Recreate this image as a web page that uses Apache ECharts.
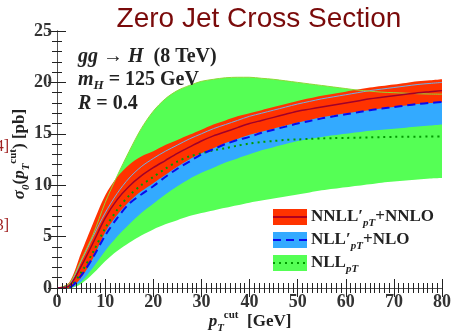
<!DOCTYPE html>
<html>
<head>
<meta charset="utf-8">
<script src="https://cdn.jsdelivr.net/npm/echarts@6/dist/echarts.min.js"></script>
<style>
  html, body { margin: 0; padding: 0; background: #fff; }
  #main { width: 454px; height: 336px; }
</style>
</head>
<body>
<div id="main"></div>
<script>
// pT cut values (GeV), one every 2.5 GeV
const ptCut = [0, 2.5, 5, 7.5, 10, 12.5, 15, 17.5, 20, 22.5, 25, 27.5, 30, 32.5, 35, 37.5, 40,
  42.5, 45, 47.5, 50, 52.5, 55, 57.5, 60, 62.5, 65, 67.5, 70, 72.5, 75, 77.5, 80];

// NNLL'+NNLO (red)
const nnllCentral = [0, 0.2, 2.1, 4.4, 6.8, 8.6, 9.9, 10.9, 11.7, 12.4, 13.1, 13.7, 14.3, 14.8, 15.2, 15.6, 16.0,
  16.3, 16.6, 16.9, 17.2, 17.4, 17.6, 17.8, 18.0, 18.2, 18.4, 18.55, 18.7, 18.85, 19.0, 19.1, 19.2];
const nnllUpper = [0, 0.5, 3.4, 6.3, 9.0, 10.8, 12.0, 12.8, 13.3, 13.9, 14.4, 14.9, 15.4, 15.9, 16.3, 16.7, 17.0,
  17.3, 17.6, 17.9, 18.2, 18.45, 18.7, 18.9, 19.1, 19.3, 19.5, 19.65, 19.8, 19.95, 20.1, 20.2, 20.3];
const nnllLower = [0, 0, 1.0, 2.9, 5.4, 7.1, 8.4, 9.4, 10.2, 11.0, 11.8, 12.5, 13.1, 13.6, 14.1, 14.5, 14.9,
  15.2, 15.5, 15.8, 16.1, 16.35, 16.6, 16.8, 17.0, 17.15, 17.3, 17.45, 17.6, 17.75, 17.9, 18.0, 18.1];

// NLL'+NLO (blue)
const nllpCentral = [0, 0.05, 1.2, 3.0, 5.1, 6.8, 8.2, 9.1, 9.9, 10.8, 11.6, 12.3, 13.0, 13.5, 14.0, 14.4, 14.7,
  15.1, 15.4, 15.7, 16.0, 16.25, 16.5, 16.7, 16.9, 17.1, 17.3, 17.45, 17.6, 17.75, 17.9, 18.0, 18.1];
const nllpUpper = [0, 0.3, 2.6, 5.0, 7.3, 9.2, 10.7, 11.8, 12.6, 13.3, 13.9, 14.5, 15.0, 15.5, 15.9, 16.3, 16.7,
  17.0, 17.3, 17.6, 17.9, 18.15, 18.4, 18.6, 18.8, 19.0, 19.2, 19.35, 19.5, 19.65, 19.8, 19.9, 20.0];
const nllpLower = [0, 0, 0.6, 2.0, 3.6, 5.0, 6.2, 7.3, 8.2, 9.1, 9.9, 10.6, 11.2, 11.7, 12.2, 12.6, 13.0,
  13.4, 13.7, 14.0, 14.3, 14.5, 14.7, 14.85, 15.0, 15.15, 15.3, 15.4, 15.5, 15.6, 15.7, 15.8, 15.9];

// NLL (green)
const nllCentral = [0, 0.1, 1.5, 3.5, 5.8, 7.6, 9.0, 10.0, 10.8, 11.6, 12.3, 12.8, 13.1, 13.4, 13.6, 13.85, 14.05,
  14.2, 14.3, 14.4, 14.45, 14.5, 14.55, 14.58, 14.6, 14.62, 14.65, 14.68, 14.7, 14.71, 14.72, 14.74, 14.75];
const nllUpper = [0, 0.4, 2.7, 5.2, 8.3, 10.9, 13.3, 15.5, 17.2, 18.4, 19.2, 19.7, 20.1, 20.3, 20.45, 20.5, 20.5,
  20.4, 20.3, 20.15, 20.0, 19.85, 19.7, 19.55, 19.4, 19.25, 19.15, 19.05, 19.0, 18.95, 18.9, 18.87, 18.85];
const nllLower = [0, 0, 0.4, 1.4, 2.6, 3.6, 4.4, 5.1, 5.7, 6.2, 6.6, 7.0, 7.3, 7.55, 7.8, 8.05, 8.3,
  8.5, 8.7, 8.9, 9.1, 9.3, 9.5, 9.65, 9.8, 9.95, 10.1, 10.25, 10.35, 10.45, 10.55, 10.65, 10.7];

const xTicks = [0, 10, 20, 30, 40, 50, 60, 70, 80];
const yTicks = [0, 5, 10, 15, 20, 25];

const SERIF = '"Liberation Serif", "DejaVu Serif", serif';
const gap = (lo, up) => lo.map((v, i) => +(up[i] - v).toFixed(3));

function band(name, lo, up, color) {
  return [
    { type: 'line', xAxisIndex: 2, stack: name, data: lo, symbol: 'none', smooth: 0.3,
      lineStyle: { width: 0 }, silent: true },
    { type: 'line', xAxisIndex: 2, stack: name, data: gap(lo, up), symbol: 'none', smooth: 0.3,
      lineStyle: { width: 0 }, areaStyle: { color: color, opacity: 1 }, silent: true }
  ];
}

function curve(ys, color, width, type) {
  return { type: 'line', xAxisIndex: 2, data: ys, symbol: 'none', smooth: 0.3,
    lineStyle: { color: color, width: width, type: type || 'solid' } };
}

const chart = echarts.init(document.getElementById('main'));

const frame = {
  z: 5,
  axisLine: { lineStyle: { color: '#555', width: 1 } },
  axisTick: { inside: true, length: 9, lineStyle: { color: '#222' } },
  splitLine: { show: false },
  minorSplitLine: { show: false }
};
const xFrame = { type: 'value', min: 0, max: 80, interval: 10,
  minorTick: { show: true, splitNumber: 10, length: 5, lineStyle: { color: '#222' } } };
const yFrame = { type: 'value', min: 0, max: 25, interval: 5,
  minorTick: { show: true, splitNumber: 5, length: 5, lineStyle: { color: '#222' } } };
const tickFont = { margin: 5, color: '#333', fontFamily: SERIF, fontWeight: 'bold', fontSize: 18 };

const rt = {
  b:  { fontFamily: SERIF, fontWeight: 'bold', fontSize: 17, fill: '#222', lineHeight: 24 },
  i:  { fontFamily: SERIF, fontWeight: 'bold', fontStyle: 'italic', fontSize: 17, fill: '#222', lineHeight: 24 },
  sub: { fontFamily: SERIF, fontWeight: 'bold', fontStyle: 'italic', fontSize: 11, fill: '#222', lineHeight: 9, verticalAlign: 'bottom' },
  sup: { fontFamily: SERIF, fontWeight: 'bold', fontSize: 11, fill: '#222', lineHeight: 9, verticalAlign: 'top' }
};
const rtBig = {
  b: { fontFamily: SERIF, fontWeight: 'bold', fontSize: 20, fill: '#222', lineHeight: 24 },
  i: { fontFamily: SERIF, fontWeight: 'bold', fontStyle: 'italic', fontSize: 20, fill: '#222', lineHeight: 24 },
  sub: { fontFamily: SERIF, fontWeight: 'bold', fontStyle: 'italic', fontSize: 13, fill: '#222', lineHeight: 9, verticalAlign: 'bottom' }
};

function legendItem(y, fill, lineColor, lineType, label) {
  return [
    { type: 'rect', z: 100, shape: { x: 273, y: y, width: 34, height: 16 }, style: { fill: fill } },
    { type: 'line', z: 101, shape: { x1: 273, y1: y + 8, x2: 307, y2: y + 8 },
      style: { stroke: lineColor, lineWidth: 2, lineDash: lineType } },
    { type: 'text', z: 100, x: 311, y: y + 8, style: { text: label, rich: rt, align: 'left', verticalAlign: 'middle' } }
  ];
}

const option = {
  animation: false,
  grid: { left: 57, right: 9, top: 31, bottom: 48 },
  xAxis: [
    Object.assign({}, frame, xFrame, {
      axisLabel: Object.assign({}, tickFont, { formatter: v => xTicks.includes(v) ? String(v) : '' })
    }),
    Object.assign({}, frame, xFrame, { position: 'top', axisLabel: { show: false } }),
    { type: 'category', data: ptCut.map(String), boundaryGap: false, show: false }
  ],
  yAxis: [
    Object.assign({}, frame, yFrame, {
      axisLabel: Object.assign({}, tickFont, { formatter: v => yTicks.includes(v) ? String(v) : '' })
    }),
    Object.assign({}, frame, yFrame, { position: 'right', axisLabel: { show: false } })
  ],
  series: [
    ...band('nll', nllLower, nllUpper, '#55ff55'),
    ...band('nllp', nllpLower, nllpUpper, '#33aaff'),
    ...band('nnll', nnllLower, nnllUpper, '#ff3300'),
    curve(nllpUpper, '#6fb0e8', 1),
    curve(nllUpper, '#8fd838', 1),
    curve(nllCentral, '#009a00', 2, [2, 4]),
    curve(nllpCentral, '#0a0aee', 2, [8, 5]),
    curve(nnllCentral, '#a0002a', 1.5)
  ],
  graphic: [
    { type: 'text', z: 100, x: 259, y: 19, style: { text: 'Zero Jet Cross Section', fontFamily: '"Liberation Sans", Arial, sans-serif',
      fontSize: 28, fill: '#7a0a0a', align: 'center', verticalAlign: 'middle' } },
    { type: 'text', z: 100, x: 78, y: 57, style: { text: '{i|gg → H}{b|  (8 TeV)}', rich: rtBig, verticalAlign: 'middle' } },
    { type: 'text', z: 100, x: 78, y: 80, style: { text: '{i|m}{sub|H}{b| = 125 GeV}', rich: rtBig, verticalAlign: 'middle' } },
    { type: 'text', z: 100, x: 78, y: 104, style: { text: '{i|R}{b| = 0.4}', rich: rtBig, verticalAlign: 'middle' } },
    { type: 'text', z: 100, x: 20, y: 154, rotation: Math.PI / 2,
      style: { text: '{i|σ}{sub|0}{b|(}{i|p}{sub|T}{sup|cut}{b|) [pb]}', rich: rt, align: 'center', verticalAlign: 'middle' } },
    { type: 'text', z: 100, x: 250, y: 322,
      style: { text: '{i|p}{sub|T}{sup|cut}{b|  [GeV]}', rich: rt, align: 'center', verticalAlign: 'middle' } },
    { type: 'text', z: 100, x: 9, y: 147, style: { text: '[14]', fontFamily: SERIF, fontSize: 16, fill: '#a02020', align: 'right', verticalAlign: 'middle' } },
    { type: 'text', z: 100, x: 9, y: 226, style: { text: '[13]', fontFamily: SERIF, fontSize: 16, fill: '#a02020', align: 'right', verticalAlign: 'middle' } },
    ...legendItem(209, '#ff3300', '#b00020', null, '{b|NNLL′}{sub|pT}{b|+NNLO}'),
    ...legendItem(232, '#33aaff', '#0a0aee', [8, 5], '{b|NLL′}{sub|pT}{b|+NLO}'),
    ...legendItem(255, '#55ff55', '#009a00', [2, 4], '{b|NLL}{sub|pT}')
  ]
};

chart.setOption(option);
</script>
</body>
</html>
